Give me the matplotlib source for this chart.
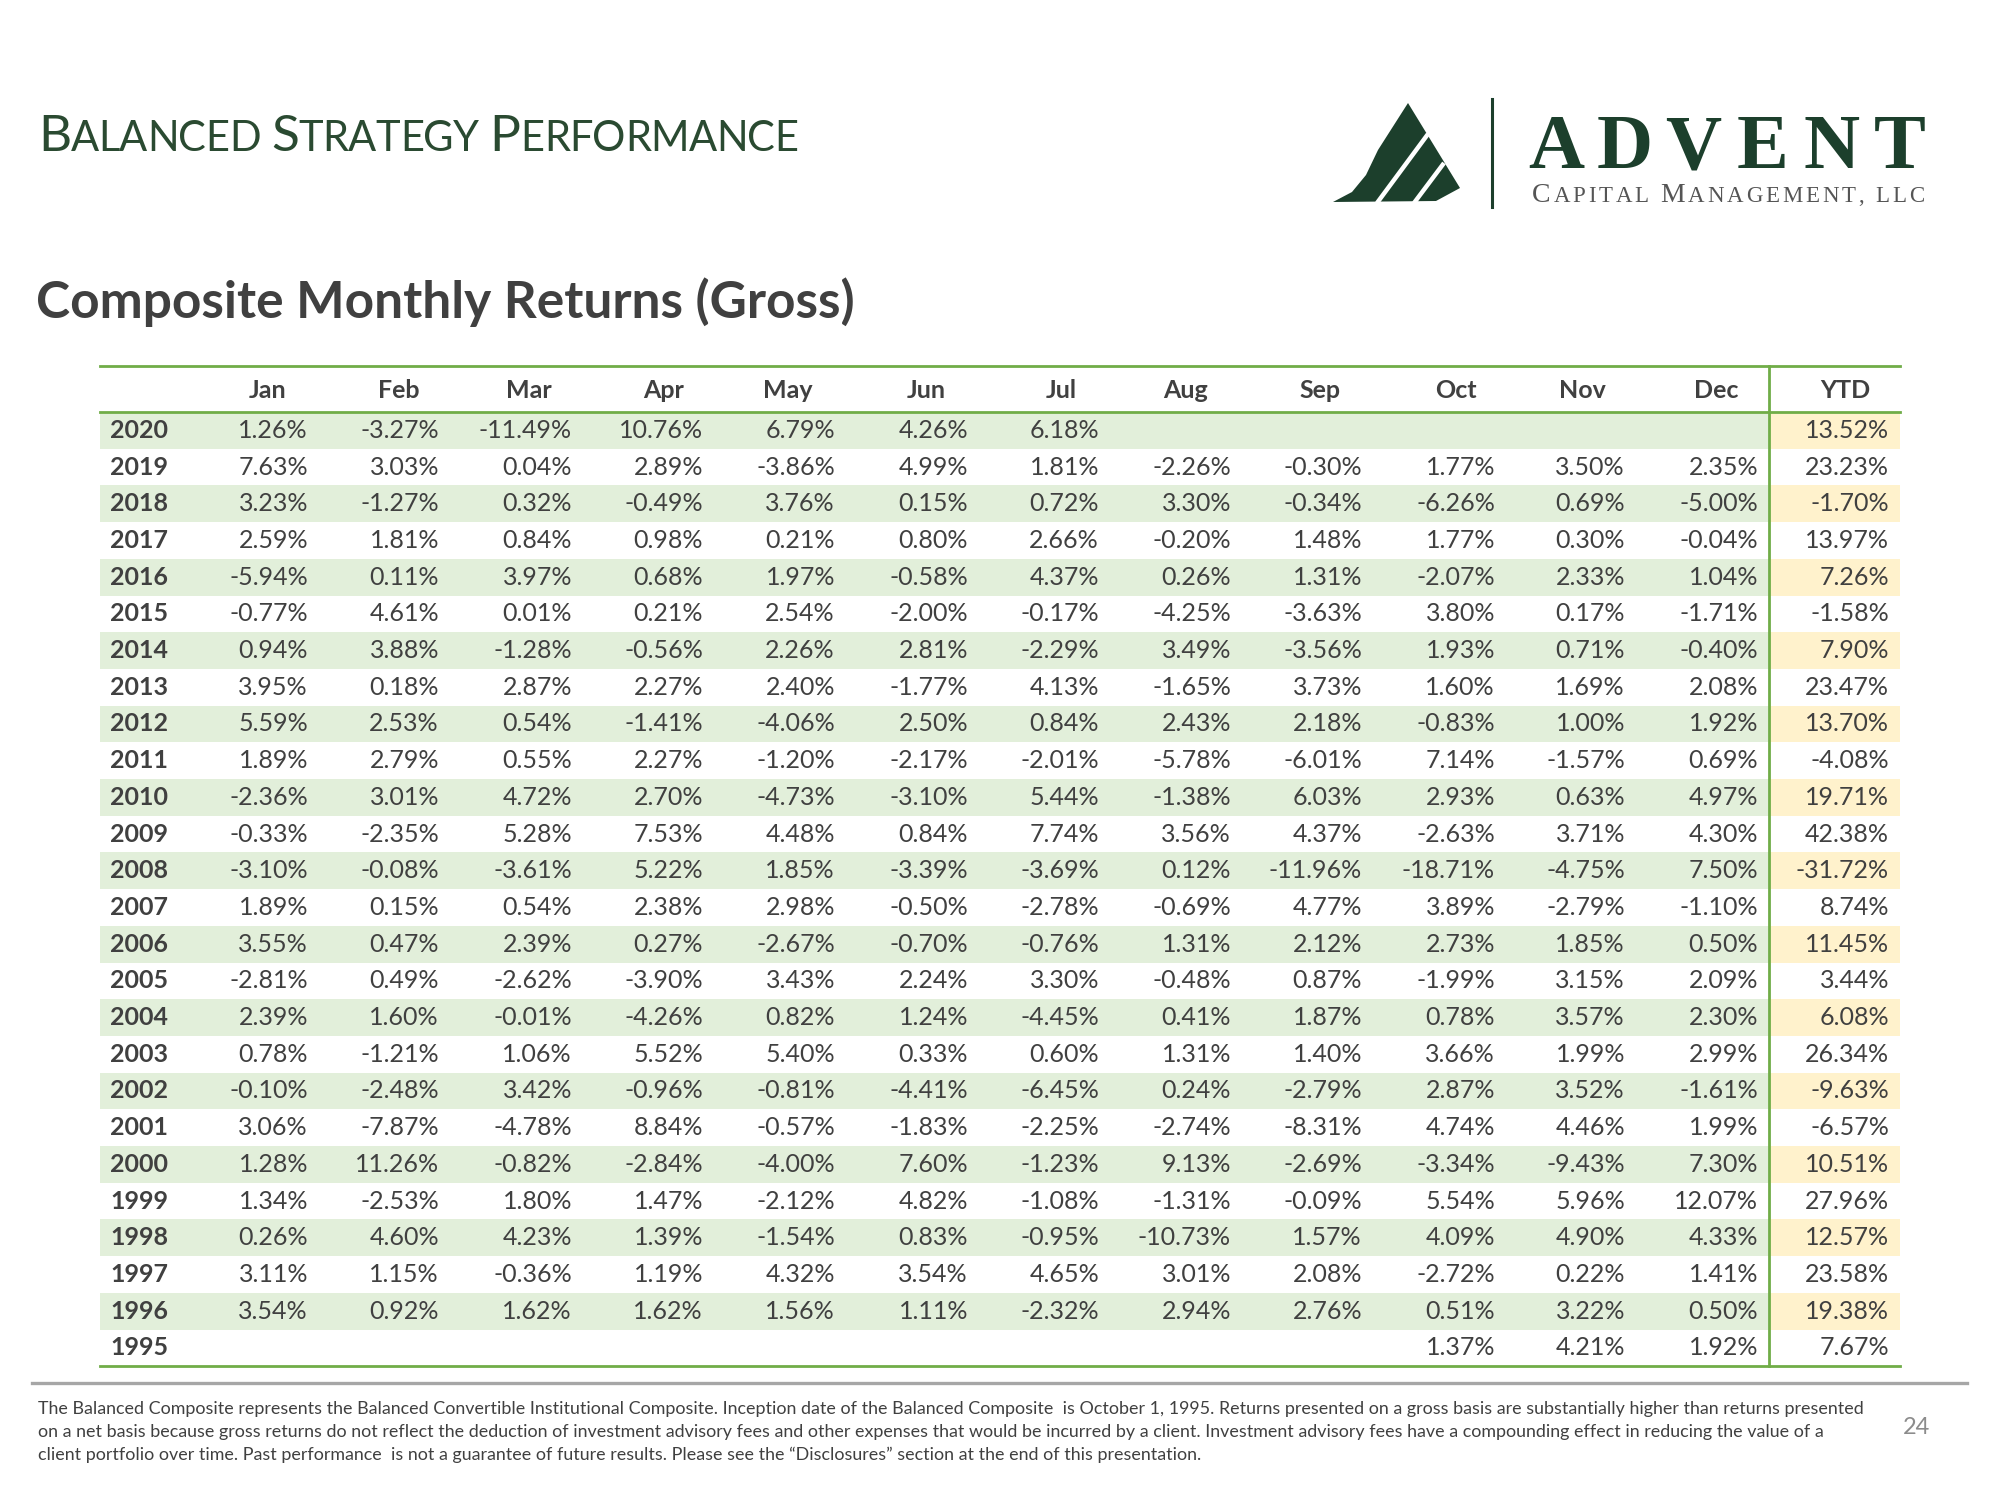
import numpy as np
import matplotlib
matplotlib.use("Agg")
import matplotlib.pyplot as plt
from matplotlib.patches import Rectangle, Polygon

nan = np.nan

# --- data ---
years = [2020, 2019, 2018, 2017, 2016, 2015, 2014, 2013, 2012, 2011, 2010, 2009, 2008,
         2007, 2006, 2005, 2004, 2003, 2002, 2001, 2000, 1999, 1998, 1997, 1996, 1995]
months = ['Jan', 'Feb', 'Mar', 'Apr', 'May', 'Jun', 'Jul', 'Aug', 'Sep', 'Oct', 'Nov', 'Dec']

jan = [1.26, 7.63, 3.23, 2.59, -5.94, -0.77, 0.94, 3.95, 5.59, 1.89, -2.36, -0.33, -3.10,
       1.89, 3.55, -2.81, 2.39, 0.78, -0.10, 3.06, 1.28, 1.34, 0.26, 3.11, 3.54, nan]
feb = [-3.27, 3.03, -1.27, 1.81, 0.11, 4.61, 3.88, 0.18, 2.53, 2.79, 3.01, -2.35, -0.08,
       0.15, 0.47, 0.49, 1.60, -1.21, -2.48, -7.87, 11.26, -2.53, 4.60, 1.15, 0.92, nan]
mar = [-11.49, 0.04, 0.32, 0.84, 3.97, 0.01, -1.28, 2.87, 0.54, 0.55, 4.72, 5.28, -3.61,
       0.54, 2.39, -2.62, -0.01, 1.06, 3.42, -4.78, -0.82, 1.80, 4.23, -0.36, 1.62, nan]
apr = [10.76, 2.89, -0.49, 0.98, 0.68, 0.21, -0.56, 2.27, -1.41, 2.27, 2.70, 7.53, 5.22,
       2.38, 0.27, -3.90, -4.26, 5.52, -0.96, 8.84, -2.84, 1.47, 1.39, 1.19, 1.62, nan]
may = [6.79, -3.86, 3.76, 0.21, 1.97, 2.54, 2.26, 2.40, -4.06, -1.20, -4.73, 4.48, 1.85,
       2.98, -2.67, 3.43, 0.82, 5.40, -0.81, -0.57, -4.00, -2.12, -1.54, 4.32, 1.56, nan]
jun = [4.26, 4.99, 0.15, 0.80, -0.58, -2.00, 2.81, -1.77, 2.50, -2.17, -3.10, 0.84, -3.39,
       -0.50, -0.70, 2.24, 1.24, 0.33, -4.41, -1.83, 7.60, 4.82, 0.83, 3.54, 1.11, nan]
jul = [6.18, 1.81, 0.72, 2.66, 4.37, -0.17, -2.29, 4.13, 0.84, -2.01, 5.44, 7.74, -3.69,
       -2.78, -0.76, 3.30, -4.45, 0.60, -6.45, -2.25, -1.23, -1.08, -0.95, 4.65, -2.32, nan]
aug = [nan, -2.26, 3.30, -0.20, 0.26, -4.25, 3.49, -1.65, 2.43, -5.78, -1.38, 3.56, 0.12,
       -0.69, 1.31, -0.48, 0.41, 1.31, 0.24, -2.74, 9.13, -1.31, -10.73, 3.01, 2.94, nan]
sep = [nan, -0.30, -0.34, 1.48, 1.31, -3.63, -3.56, 3.73, 2.18, -6.01, 6.03, 4.37, -11.96,
       4.77, 2.12, 0.87, 1.87, 1.40, -2.79, -8.31, -2.69, -0.09, 1.57, 2.08, 2.76, nan]
oct_ = [nan, 1.77, -6.26, 1.77, -2.07, 3.80, 1.93, 1.60, -0.83, 7.14, 2.93, -2.63, -18.71,
        3.89, 2.73, -1.99, 0.78, 3.66, 2.87, 4.74, -3.34, 5.54, 4.09, -2.72, 0.51, 1.37]
nov = [nan, 3.50, 0.69, 0.30, 2.33, 0.17, 0.71, 1.69, 1.00, -1.57, 0.63, 3.71, -4.75,
       -2.79, 1.85, 3.15, 3.57, 1.99, 3.52, 4.46, -9.43, 5.96, 4.90, 0.22, 3.22, 4.21]
dec = [nan, 2.35, -5.00, -0.04, 1.04, -1.71, -0.40, 2.08, 1.92, 0.69, 4.97, 4.30, 7.50,
       -1.10, 0.50, 2.09, 2.30, 2.99, -1.61, 1.99, 7.30, 12.07, 4.33, 1.41, 0.50, 1.92]
ytd = [13.52, 23.23, -1.70, 13.97, 7.26, -1.58, 7.90, 23.47, 13.70, -4.08, 19.71, 42.38, -31.72,
       8.74, 11.45, 3.44, 6.08, 26.34, -9.63, -6.57, 10.51, 27.96, 12.57, 23.58, 19.38, 7.67]

monthly = [jan, feb, mar, apr, may, jun, jul, aug, sep, oct_, nov, dec]

footer_lines = [
    "The Balanced Composite represents the Balanced Convertible Institutional Composite. Inception date of the Balanced Composite  is October 1, 1995. Returns presented on a gross basis are substantially higher than returns presented",
    "on a net basis because gross returns do not reflect the deduction of investment advisory fees and other expenses that would be incurred by a client. Investment advisory fees have a compounding effect in reducing the value of a",
    "client portfolio over time. Past performance  is not a guarantee of future results. Please see the \u201cDisclosures\u201d section at the end of this presentation.",
]

# --- layout (pixels on a 2000x1500 canvas) ---
TXT = '#404040'
GREEN_LINE = '#70AD47'
ROW_GREEN = '#E2EFDA'
ROW_YELLOW = '#FFF2CC'
TITLE_GREEN = '#2A4A31'
LOGO_GREEN = '#1C3F2C'
FONT = 'Lato'

tbl_left, tbl_right, ytd_split = 100, 1900, 1769
tbl_top, head_bottom = 366, 412
row_h = 36.7
val_right = [308, 439, 572, 703, 835, 968, 1099, 1231, 1362, 1495, 1625, 1758]
head_ctr = [268, 399, 529, 664, 788, 926, 1061, 1186, 1320, 1456, 1582, 1716]
ytd_right, ytd_head = 1889, 1845

fig = plt.figure(figsize=(20, 15), dpi=100)
ax = fig.add_axes([0, 0, 1, 1])
ax.set_xlim(0, 2000)
ax.set_ylim(1500, 0)
ax.axis('off')
renderer = fig.canvas.get_renderer()


def spaced_text(x, y, segments, color, family, weight='normal', track=0.0, gap=12):
    # draws segments of (string, size) char by char so sizes can mix (small caps)
    for seg, size in segments:
        if seg == ' ':
            x += gap
            continue
        for ch in seg:
            t = ax.text(x, y, ch, fontsize=size, color=color, family=family,
                        weight=weight, ha='left', va='baseline')
            x += t.get_window_extent(renderer).width + track
    return x


# header titles
spaced_text(38, 151, [('B', 37), ('ALANCED', 30), (' ', 0), ('S', 37), ('TRATEGY', 30),
                      (' ', 0), ('P', 37), ('ERFORMANCE', 30)],
            TITLE_GREEN, FONT, track=-0.5, gap=11)
ax.text(36, 318, 'Composite Monthly Returns (Gross)', fontsize=37, weight='bold',
        color=TXT, family=FONT, ha='left', va='baseline')

# logo
tri = Polygon([(1408, 103), (1460, 188), (1436, 201), (1333, 202), (1352, 192),
               (1366, 175), (1378, 150)], closed=True, color=LOGO_GREEN, lw=0)
ax.add_patch(tri)
ax.plot([1428, 1377], [134, 203], color='white', lw=3.2, solid_capstyle='butt')
ax.plot([1444, 1414], [163, 203], color='white', lw=3.2, solid_capstyle='butt')
ax.plot([1492, 1492], [99, 207], color=LOGO_GREEN, lw=2.2)
for ch, cx in zip('ADVENT', np.linspace(1556, 1900, 6)):
    ax.text(cx, 168, ch, fontsize=56, weight='bold', color=LOGO_GREEN,
            family='Liberation Serif', ha='center', va='baseline')
spaced_text(1532, 202, [('C', 20), ('APITAL', 16.5), (' ', 0), ('M', 20), ('ANAGEMENT,', 16.5),
                        (' ', 0), ('LLC', 16.5)],
            '#555555', 'Liberation Serif', track=2.8, gap=9)

# table shading
for i, yr in enumerate(years):
    top = head_bottom + i * row_h
    if i % 2 == 0:
        ax.add_patch(Rectangle((tbl_left, top), ytd_split - tbl_left, row_h,
                               color=ROW_GREEN, lw=0))
        ax.add_patch(Rectangle((ytd_split, top), tbl_right - ytd_split, row_h,
                               color=ROW_YELLOW, lw=0))

# header row
for m, cx in zip(months, head_ctr):
    ax.text(cx, (tbl_top + head_bottom) / 2 + 1, m, fontsize=18, weight='bold', color=TXT,
            family=FONT, ha='center', va='center')
ax.text(ytd_head, (tbl_top + head_bottom) / 2 + 1, 'YTD', fontsize=18, weight='bold',
        color=TXT, family=FONT, ha='center', va='center')

# body
for i, yr in enumerate(years):
    yc = head_bottom + (i + 0.5) * row_h
    ax.text(110, yc, str(yr), fontsize=18, weight='bold', color=TXT, family=FONT,
            ha='left', va='center')
    for col, xr in zip(monthly, val_right):
        v = col[i]
        if not np.isnan(v):
            ax.text(xr, yc, f'{v:.2f}%', fontsize=18, color=TXT, family=FONT,
                    ha='right', va='center')
    ax.text(ytd_right, yc, f'{ytd[i]:.2f}%', fontsize=18, color=TXT, family=FONT,
            ha='right', va='center')

tbl_bottom = head_bottom + len(years) * row_h
ax.plot([tbl_left, tbl_right], [tbl_top, tbl_top], color=GREEN_LINE, lw=2)
ax.plot([tbl_left, tbl_right], [head_bottom, head_bottom], color=GREEN_LINE, lw=2)
ax.plot([tbl_left, tbl_right], [tbl_bottom, tbl_bottom], color=GREEN_LINE, lw=2)
ax.plot([ytd_split, ytd_split], [tbl_top, tbl_bottom], color=GREEN_LINE, lw=2)

# footer
ax.plot([32, 1967], [1383, 1383], color='#A6A6A6', lw=2.4)
for k, line in enumerate(footer_lines):
    ax.text(38, 1409 + k * 23, line, fontsize=12.85, color=TXT, family=FONT,
            ha='left', va='center')
ax.text(1917, 1428, '24', fontsize=17, color='#8C8C8C', family=FONT, ha='center', va='center')

fig.savefig('out.png', dpi=100, facecolor='white')
